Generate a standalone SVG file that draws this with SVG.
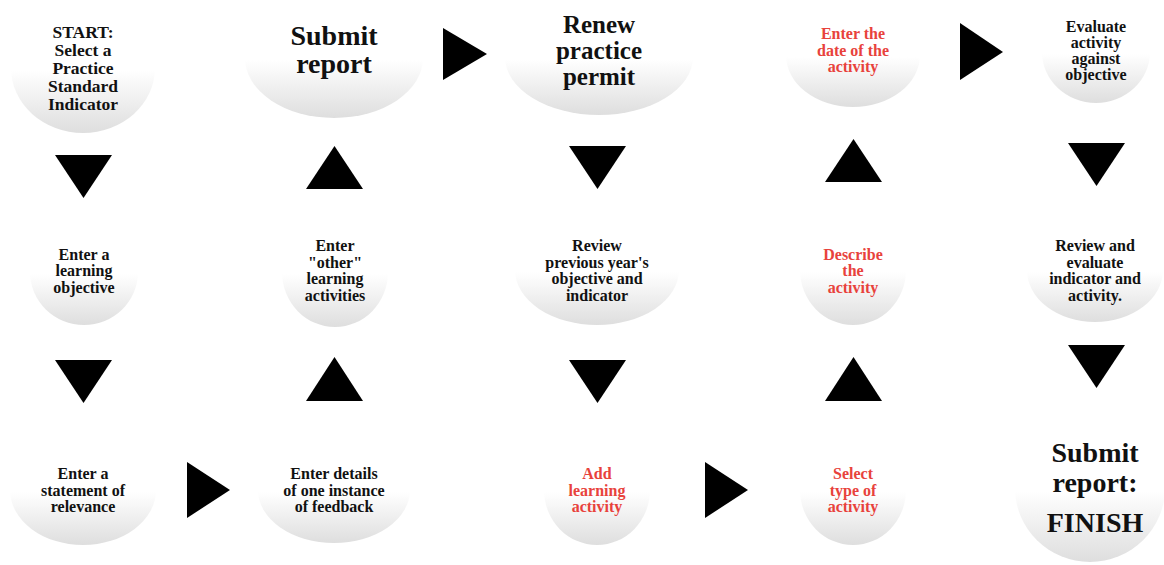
<svg xmlns="http://www.w3.org/2000/svg" width="1164" height="565" viewBox="0 0 1164 565">
  <defs>
    <!-- soft white-to-grey shading used by every step bubble -->
    <linearGradient id="bubble" x1="0" y1="0" x2="0" y2="1">
      <stop offset="0" stop-color="#ffffff"/>
      <stop offset="0.52" stop-color="#ffffff"/>
      <stop offset="1" stop-color="#dedede"/>
    </linearGradient>
    <style>
      .bubble { fill: url(#bubble); }
      text { font-family: "Liberation Serif", "Times New Roman", serif; font-weight: bold; text-anchor: middle; fill: #111; }
      .s { font-size: 16px; }
      .m { font-size: 17.5px; }
      .l { font-size: 25px; }
      .xl { font-size: 28px; }
      .red { fill: #e8423c; }
      .arrow { fill: #000; }
    </style>
  </defs>
  <rect width="1164" height="565" fill="#fff"/>

  <!-- flow arrows -->
  <g id="connectors">
    <polygon class="arrow" points="443,28 443,80 487,54"/>
    <polygon class="arrow" points="960,23 960,80 1003,52"/>
    <polygon class="arrow" points="187,462 187,518 230,490"/>
    <polygon class="arrow" points="705,462 705,518 748,490"/>

    <polygon class="arrow" points="55,155 112,155 83.5,198"/>
    <polygon class="arrow" points="306,189 363,189 334.5,146"/>
    <polygon class="arrow" points="569,146 626,146 597.5,189"/>
    <polygon class="arrow" points="825,182 882,182 853.5,139"/>
    <polygon class="arrow" points="1068,143 1125,143 1096.5,186"/>

    <polygon class="arrow" points="55,360 112,360 83.5,403"/>
    <polygon class="arrow" points="306,401 363,401 334.5,357"/>
    <polygon class="arrow" points="569,360 626,360 597.5,403"/>
    <polygon class="arrow" points="825,401 882,401 853.5,357"/>
    <polygon class="arrow" points="1068,345 1125,345 1096.5,388"/>
  </g>

  <!-- row 1 -->
  <g id="start">
    <ellipse class="bubble" cx="83" cy="68" rx="72" ry="65"/>
    <text class="m" x="83" y="37.5">START:</text>
    <text class="m" x="83" y="55.5">Select a</text>
    <text class="m" x="83" y="73.5">Practice</text>
    <text class="m" x="83" y="91.5">Standard</text>
    <text class="m" x="83" y="109.5">Indicator</text>
  </g>
  <g id="submit-report">
    <ellipse class="bubble" cx="334" cy="58" rx="89" ry="60"/>
    <text class="xl" x="334" y="45">Submit</text>
    <text class="xl" x="334" y="73">report</text>
  </g>
  <g id="renew-permit">
    <ellipse class="bubble" cx="599" cy="57" rx="94" ry="58"/>
    <text class="l" x="599" y="32.5">Renew</text>
    <text class="l" x="599" y="58.5">practice</text>
    <text class="l" x="599" y="84.5">permit</text>
  </g>
  <g id="enter-date">
    <ellipse class="bubble" cx="853" cy="55" rx="67" ry="52"/>
    <text class="s red" x="853" y="39">Enter the</text>
    <text class="s red" x="853" y="55.5">date of the</text>
    <text class="s red" x="853" y="72">activity</text>
  </g>
  <g id="evaluate-activity">
    <ellipse class="bubble" cx="1096" cy="52" rx="54" ry="51"/>
    <text class="s" x="1096" y="32">Evaluate</text>
    <text class="s" x="1096" y="48">activity</text>
    <text class="s" x="1096" y="64">against</text>
    <text class="s" x="1096" y="80">objective</text>
  </g>

  <!-- row 2 -->
  <g id="learning-objective">
    <ellipse class="bubble" cx="84" cy="272" rx="54" ry="53"/>
    <text class="s" x="84" y="259.5">Enter a</text>
    <text class="s" x="84" y="276">learning</text>
    <text class="s" x="84" y="292.5">objective</text>
  </g>
  <g id="other-activities">
    <ellipse class="bubble" cx="335" cy="272" rx="53" ry="55"/>
    <text class="s" x="335" y="251">Enter</text>
    <text class="s" x="335" y="267.5">"other"</text>
    <text class="s" x="335" y="284">learning</text>
    <text class="s" x="335" y="300.5">activities</text>
  </g>
  <g id="review-previous">
    <ellipse class="bubble" cx="597" cy="270" rx="82" ry="55"/>
    <text class="s" x="597" y="251">Review</text>
    <text class="s" x="597" y="267.5">previous year's</text>
    <text class="s" x="597" y="284">objective and</text>
    <text class="s" x="597" y="300.5">indicator</text>
  </g>
  <g id="describe-activity">
    <ellipse class="bubble" cx="853" cy="270" rx="53" ry="55"/>
    <text class="s red" x="853" y="259.5">Describe</text>
    <text class="s red" x="853" y="276">the</text>
    <text class="s red" x="853" y="292.5">activity</text>
  </g>
  <g id="review-evaluate">
    <ellipse class="bubble" cx="1095" cy="270" rx="68" ry="52"/>
    <text class="s" x="1095" y="251">Review and</text>
    <text class="s" x="1095" y="267.5">evaluate</text>
    <text class="s" x="1095" y="284">indicator and</text>
    <text class="s" x="1095" y="300.5">activity.</text>
  </g>

  <!-- row 3 -->
  <g id="statement-relevance">
    <ellipse class="bubble" cx="83" cy="490" rx="73" ry="55"/>
    <text class="s" x="83" y="479">Enter a</text>
    <text class="s" x="83" y="495.5">statement of</text>
    <text class="s" x="83" y="512">relevance</text>
  </g>
  <g id="feedback-details">
    <ellipse class="bubble" cx="334" cy="490" rx="76" ry="53"/>
    <text class="s" x="334" y="479">Enter details</text>
    <text class="s" x="334" y="495.5">of one instance</text>
    <text class="s" x="334" y="512">of feedback</text>
  </g>
  <g id="add-activity">
    <ellipse class="bubble" cx="597" cy="490" rx="53" ry="55"/>
    <text class="s red" x="597" y="479">Add</text>
    <text class="s red" x="597" y="495.5">learning</text>
    <text class="s red" x="597" y="512">activity</text>
  </g>
  <g id="select-type">
    <ellipse class="bubble" cx="853" cy="490" rx="53" ry="55"/>
    <text class="s red" x="853" y="479">Select</text>
    <text class="s red" x="853" y="495.5">type of</text>
    <text class="s red" x="853" y="512">activity</text>
  </g>
  <g id="finish">
    <ellipse class="bubble" cx="1090" cy="488" rx="75" ry="74"/>
    <text class="xl" x="1095" y="462">Submit</text>
    <text class="xl" x="1095" y="492">report:</text>
    <text class="xl" x="1095" y="532">FINISH</text>
  </g>
</svg>
